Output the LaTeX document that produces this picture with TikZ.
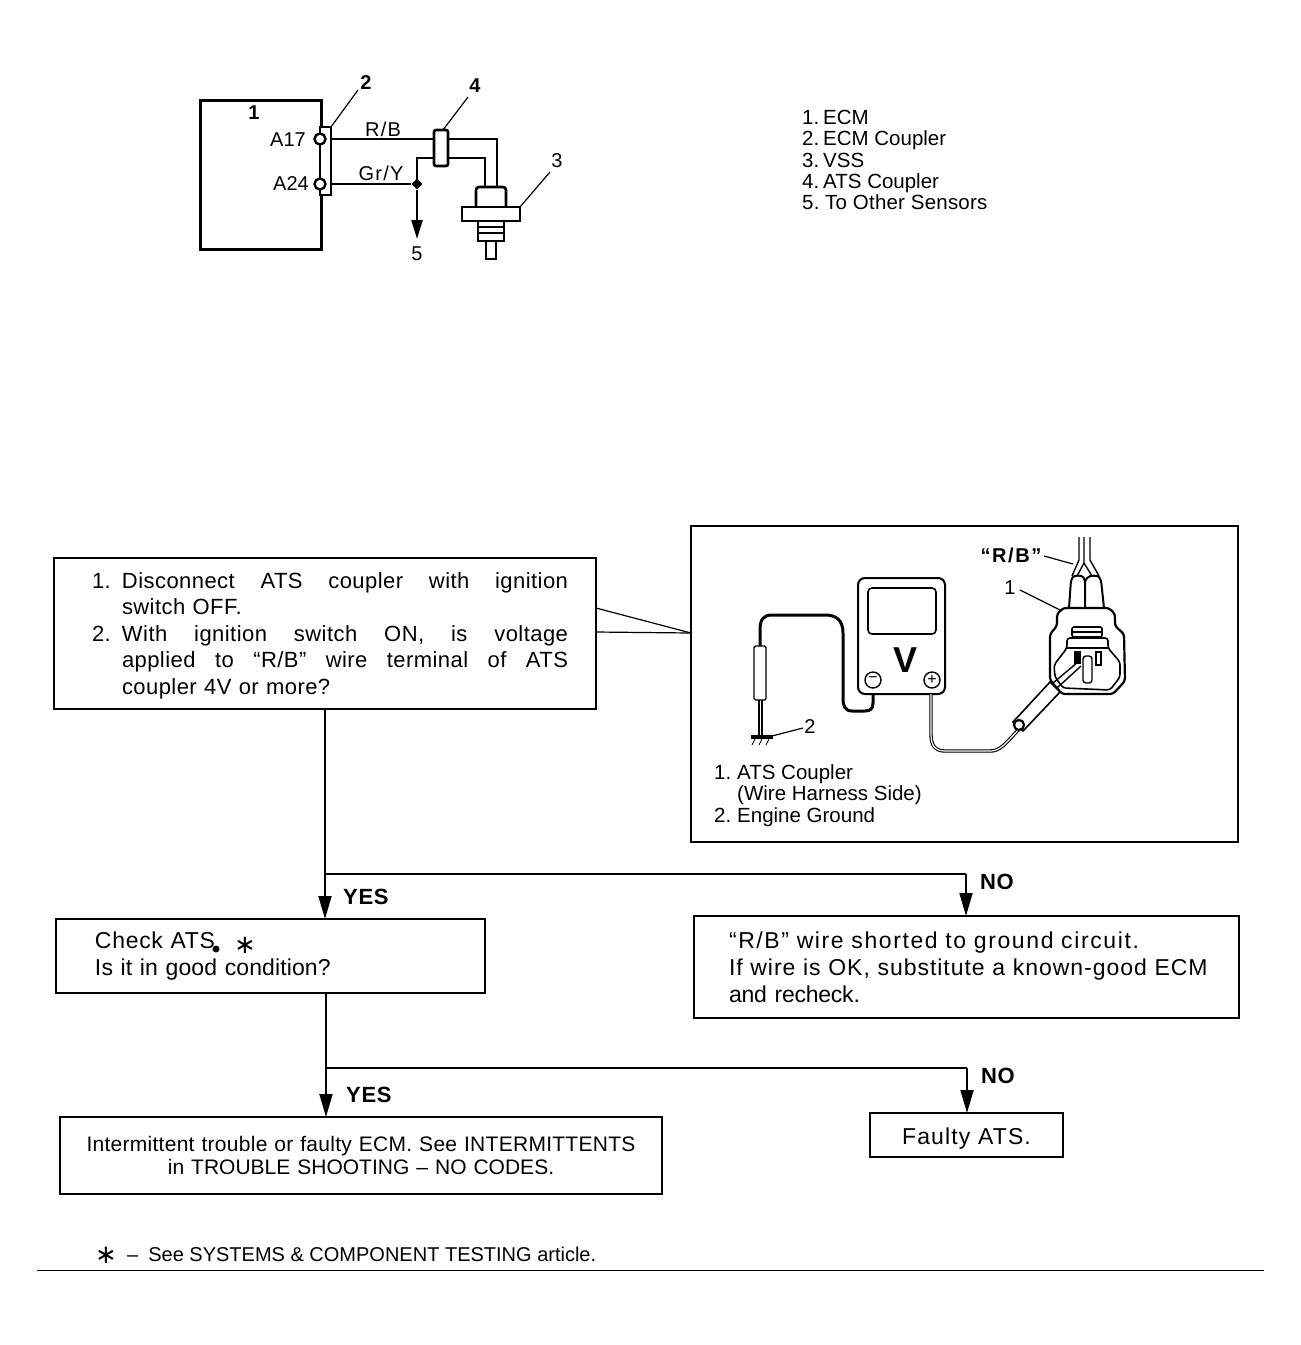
\documentclass[tikz,border=0pt]{standalone}
\usepackage{fontspec}
\setmainfont{Liberation Sans}
\newfontfamily\djv{DejaVu Sans}
\usetikzlibrary{arrows.meta,shapes.geometric}
\newcommand{\F}[1]{\fontsize{#1}{#1}\selectfont}
\newcommand{\LS}[1]{\addfontfeatures{LetterSpace=#1}}
\newcommand{\jl}[2]{\hbox to #1pt{\spaceskip=.28em plus 1fil\relax #2}}
\newcommand{\itm}[2]{\hbox to #1pt{#2\hfil}}
\tikzset{
  lbl/.style={inner sep=0,anchor=base west,font=\F{20.5}},
  num/.style={inner sep=0,anchor=center,font=\F{20}},
  yn/.style={inner sep=0,anchor=base west,font=\bfseries\F{22}\LS{3}},
  box/.style={draw,line width=1.6pt,inner sep=0,outer sep=0,anchor=north west},
  flow/.style={line width=1.8pt,-{Triangle[length=23pt,width=13pt]}},
  branch/.style={line width=1.8pt},
  wire/.style={line width=2.6pt},
  leader/.style={line width=1.2pt},
  star/.style={inner sep=0,font=\djv\F{26}}
}
\begin{document}
\begin{tikzpicture}[x=1pt,y=-1pt]
\useasboundingbox (0,0) rectangle (1301,1345);
% ---------- schematic
\node[box,line width=3pt,minimum width=121,minimum height=149] (ecm) at (200,100) {};
\node[draw,line width=2.4pt,inner sep=0,outer sep=0,minimum width=11,minimum height=68,anchor=north west,fill=white] (strip) at (320,127) {};
\node[draw,line width=2.4pt,circle,fill=white,inner sep=0,minimum size=11] (t17) at (320,139) {};
\node[draw,line width=2.4pt,circle,fill=white,inner sep=0,minimum size=11] (t24) at (320,184) {};
\node[draw,line width=2.6pt,rounded corners=2pt,inner sep=0,outer sep=0,minimum width=14,minimum height=36,anchor=north west,fill=white] (cpl) at (434,130) {};
\node[draw,line width=2.6pt,rounded corners=3pt,inner sep=0,outer sep=0,minimum width=30,minimum height=22,anchor=north west] (hex) at (476,187) {};
\node[draw,line width=2.6pt,inner sep=0,outer sep=0,minimum width=58,minimum height=14,anchor=north west,fill=white] (flg) at (462,207) {};
\node[draw,line width=2.6pt,inner sep=0,outer sep=0,minimum width=26,minimum height=20,anchor=north west] (thr) at (478,221) {};
\node[draw,line width=2.6pt,inner sep=0,outer sep=0,minimum width=10,minimum height=18,anchor=north west] (tip) at (486,241) {};
\draw[line width=1.6pt] (thr.west |- 0,227) -- (thr.east |- 0,227) (thr.west |- 0,233) -- (thr.east |- 0,233);
\node[fill,diamond,inner sep=0,minimum size=11] (jn) at (417,184) {};
\coordinate (five) at (417,239);
\draw[wire] (strip.east |- t17) -- (cpl.west |- t17);
\draw[wire] (cpl.east |- t17) -| (hex.north -| 497,0);
\draw[wire] (cpl.east |- 0,158) -| (hex.north -| 485,0);
\draw[wire] (cpl.west |- 0,158) -| (jn.center);
\draw[wire] (strip.east |- t24) -- (jn);
\draw[line width=2.2pt,-{Triangle[length=19pt,width=11pt]}] (jn) -- (five);
\draw[leader] (strip.north east) -- (358,90);
\draw[leader] (443,130) -- (468,97);
\draw[leader] (flg.north east) -- (550,172);
\node[num,font=\bfseries\F{20}] (n1) at (254,113) {1};
\node[num,font=\bfseries\F{20}] (n2) at (366,83) {2};
\node[num] (n3) at (557,161) {3};
\node[num,font=\bfseries\F{20}] (n4) at (475,86) {4};
\node[num] (n5) at (417,254) {5};
\node[num] (a17) at (288,140) {A17};
\node[num] (a24) at (291,184) {A24};
\node[num,font=\F{20}\LS{6}] (rb) at (383,129) {R/B};
\node[num,font=\F{20}\LS{6}] (gy) at (381,173) {Gr/Y};
% legend
\node[lbl] (l1) at (802,124) {\itm{21}{1.}ECM};
\node[lbl] (l2) at (802,145) {\itm{21}{2.}ECM Coupler};
\node[lbl] (l3) at (802,167) {\itm{21}{3.}VSS};
\node[lbl] (l4) at (802,188) {\itm{21}{4.}ATS Coupler};
\node[lbl,font=\F{20.5}\LS{1}] (l5) at (802,209) {\itm{23}{5.}To Other Sensors};
% ---------- flow boxes
\node[box,font=\fontsize{22}{26.5}\selectfont\LS{2},text width=542pt,minimum height=151,align=left] (b1) at (54,558) {%
\rule{0pt}{20pt}\hspace*{38pt}\jl{476}{\itm{30}{1.}Disconnect ATS coupler with ignition}\\
\hspace*{68pt}switch OFF.\\
\hspace*{38pt}\jl{476}{\itm{30}{2.}With ignition switch ON, is voltage}\\
\hspace*{68pt}\jl{446}{applied to “R/B” wire terminal of ATS}\\
\hspace*{68pt}coupler 4V or more?};
\node[box,minimum width=547,minimum height=316] (b6) at (691,526) {};
\node[box,font=\fontsize{23}{27}\selectfont,text width=429pt,minimum height=74,align=left] (b2) at (56,919) {%
\hspace*{39pt}{\LS{3}Check ATS}\\
\hspace*{39pt}{\LS{.5}Is it in good condition?}};
\node[box,font=\fontsize{23}{27}\selectfont,text width=545pt,minimum height=102,align=left] (b3) at (694,916) {%
\hspace*{35pt}{\LS{7}“R/B” wire shorted to ground circuit.}\\
\hspace*{35pt}{\LS{4.2}If wire is OK, substitute a known-good ECM}\\
\hspace*{35pt}{\LS{-1}and recheck.}};
\node[box,font=\fontsize{21}{23}\selectfont,text width=602pt,minimum height=77,align=center] (b4) at (60,1117) {%
{\LS{1.3}Intermittent trouble or faulty ECM. See INTERMITTENTS}\\
in TROUBLE SHOOTING – NO CODES.};
\node[box,font=\F{23}\LS{5},minimum width=193,minimum height=44] (b5) at (870,1113) {\rule{0pt}{23pt}Faulty ATS.};
\fill (216,949) circle (3.5);
\node[star] (st1) at (245,945) {∗};
\node[star] (st2) at (106,1255) {∗};
% callout
\coordinate (cv) at (691,633);
\draw[line width=1.2pt] (b1.east |- 0,608) -- (cv);
\draw[line width=1.2pt] (b1.east |- 0,632) -- (cv);
% flow
\coordinate (j1) at (325,874);
\coordinate (j2) at (326,1068);
\coordinate (r1) at (966,874);
\coordinate (r2) at (967,1068);
\draw[flow] (b1.south -| j1) -- (b2.north -| j1);
\draw[branch] (j1) -- (r1);
\draw[flow] (r1) -- (b3.north -| r1);
\draw[flow] (b2.south -| j2) -- (b4.north -| j2);
\draw[branch] (j2) -- (r2);
\draw[flow] (r2) -- (b5.north -| r2);
\node[yn] (y1) at (343,904) {YES};
\node[yn] (n6) at (980,889) {NO};
\node[yn] (y2) at (346,1102) {YES};
\node[yn] (n7) at (981,1083) {NO};
% footnote
\node[lbl,font=\F{20}] (fn) at (127,1261) {–\hspace{10pt}See SYSTEMS \& COMPONENT TESTING article.};
\coordinate (ra) at (37,1270);
\coordinate (rb2) at (1264,1270);
\draw[line width=1pt] (ra) -- (rb2);
% ---------- inset
\draw[line width=2pt,rounded corners=7pt] (858,578) rectangle (945,694);
\draw[line width=1.6pt,rounded corners=4pt] (868,588) rectangle (936,634);
\node[inner sep=0,font=\bfseries\F{36}] (vv) at (905,660) {V};
\node[draw,circle,line width=1.4pt,inner sep=0,minimum size=16,font=\F{16}] (mn) at (873,680) {−};
\node[draw,circle,line width=1.4pt,inner sep=0,minimum size=16,font=\F{16}] (pl) at (932,680) {+};
% black lead
\draw[line width=3pt] (873,694) -- (873,703) .. controls (873,709) and (870,711) .. (865,711) -- (852,711) .. controls (845,711) and (843,706) .. (843,698) -- (843,633) .. controls (843,620) and (836,615) .. (825,615) -- (772,615) .. controls (763,615) and (760,620) .. (760,630) -- (760,646);
\draw[line width=1.4pt,fill=white,rounded corners=1.5pt] (754,646) rectangle (766,700);
\draw[line width=1.4pt] (759,700) -- (759,737) (762,700) -- (762,737);
\draw[line width=3.5pt] (751,737) -- (773,737);
\draw[line width=.8pt] (755,739) -- (752,745) (762,739) -- (759,745) (769,739) -- (766,745);
\draw[leader] (772,736) -- (803,728);
\node[num] (g2) at (810,727) {2};
% red lead
\draw[line width=3.4pt,line join=round] (931,694) -- (931,735) .. controls (931,746) and (936,751) .. (945,751) -- (990,751) .. controls (998,751) and (1002,747) .. (1008,741) -- (1021,727);
\draw[line width=1.2pt,white,line join=round] (931,694) -- (931,735) .. controls (931,746) and (936,751) .. (945,751) -- (990,751) .. controls (998,751) and (1002,747) .. (1008,741) -- (1021,727);
% coupler
\draw[line width=2pt,fill=white,rounded corners=3pt] (1069,608) -- (1071,580) .. controls (1074,575) and (1082,575) .. (1085,580) -- (1085,608);
\draw[line width=2pt,fill=white,rounded corners=3pt] (1085,608) -- (1085,580) .. controls (1090,575) and (1098,575) .. (1101,580) -- (1104,608);
\draw[line width=1.4pt] (1079,537) -- (1079,560) -- (1072,576);
\draw[line width=1.4pt] (1084,537) -- (1084,563) -- (1077,576) (1084,563) -- (1092,576);
\draw[line width=1.4pt] (1090,537) -- (1090,560) -- (1099,576);
\draw[line width=2.2pt,rounded corners=3pt] (1050,680) -- (1050,634) -- (1057,626) -- (1057,614) -- (1063,608) -- (1109,608) -- (1115,614) -- (1115,626) -- (1124,634) -- (1125,681) -- (1113,694) -- (1062,694) -- cycle;
\draw[line width=1.6pt,rounded corners=2pt] (1072,627) rectangle (1102,637);
\draw[line width=1.4pt] (1072,632) -- (1102,632);
\draw[line width=1.6pt,rounded corners=3pt] (1067,648) -- (1067,638) -- (1108,638) -- (1108,648) -- (1120,662) -- (1120,677) -- (1110,690) -- (1063,688) -- (1055,677) -- (1054,665) -- cycle;
\draw[line width=1.4pt] (1067,648) -- (1108,648);
\draw[line width=1.4pt,fill=white] (1096,652) rectangle (1101,665);
\draw[line width=1.4pt,fill=white,rounded corners=3pt] (1083,656) rectangle (1092,683);
\draw[line width=1.4pt,fill=black] (1075,652) rectangle (1080,663);
% probe
\draw[line width=1.6pt,fill=white] (1013,722) -- (1050,682) -- (1060,692) -- (1023,731) -- cycle;
\draw[line width=1.4pt] (1053,683) -- (1078,662) (1057,688) -- (1081,666);
\draw[line width=2.2pt,fill=white] (1019,725) circle (5);
\node[inner sep=0,font=\bfseries\F{20}\LS{8}] (qrb) at (1011,555) {“R/B”};
\draw[leader] (1044,556) -- (1073,564);
\node[num] (c1) at (1010,588) {1};
\draw[leader] (1020,590) -- (1062,611);
\node[lbl] (i1) at (714,779) {\itm{23}{1.}ATS Coupler};
\node[lbl] (i2) at (737,800) {(Wire Harness Side)};
\node[lbl] (i3) at (714,822) {\itm{23}{2.}Engine Ground};
\end{tikzpicture}
\end{document}
